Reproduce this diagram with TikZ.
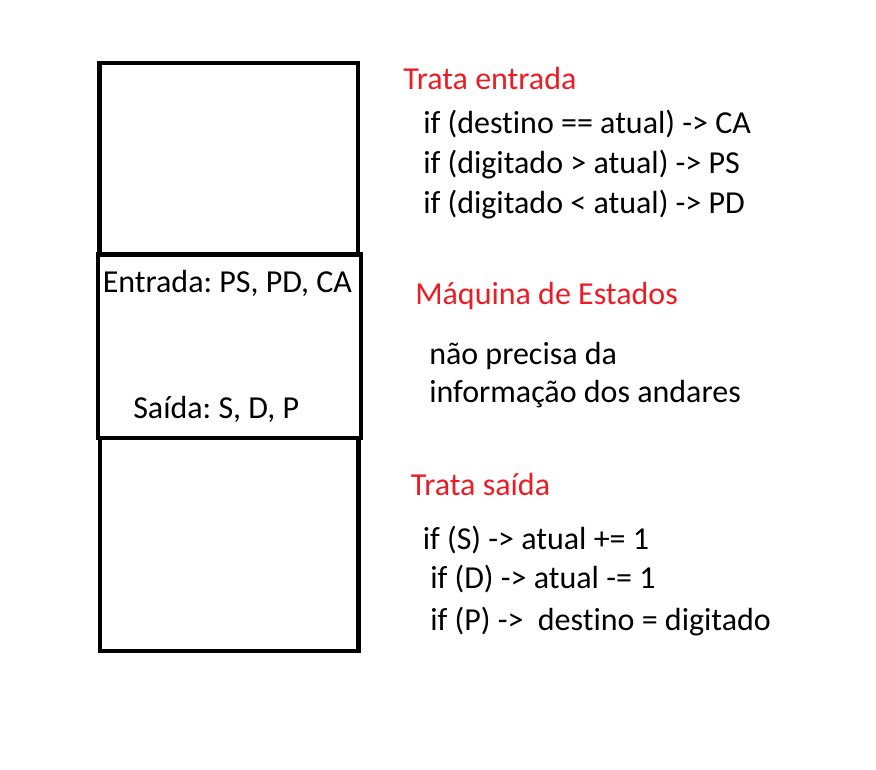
\documentclass[tikz,border=0pt]{standalone}
\usepackage{fontspec}
\setmainfont{Carlito}[Ligatures=NoCommon]
\usepackage{tikz}
\definecolor{paintred}{RGB}{237,28,36}
\tikzset{
  txt/.style={anchor=base west,inner sep=0pt,font=\fontsize{24}{28}\selectfont},
  redtxt/.style={txt,text=paintred},
  blockbox/.style={line width=3.4pt}
}
\frenchspacing

\begin{document}
\begin{tikzpicture}[x=0.75pt,y=0.75pt,yscale=-1,xscale=1]
%set diagram to the size of the reference
\useasboundingbox (0,0) rectangle (876,770);

%Shape: Rectangle [id:top]
\draw [blockbox] (99.5,63) rectangle (358,254);
%Shape: Rectangle [id:bottom]
\draw [blockbox] (100,438) rectangle (358.5,651);
%Shape: Rectangle [id:middle]
\draw [blockbox] (98,254.5) rectangle (361,438);

%Text inside the middle block
\node [txt] (entrada) at (102.5,292.7) {Entrada: PS, PD, CA};
\node [txt] (saida) at (133,418.3) {Saída: S, D, P};

%Text: Trata entrada
\node [redtxt] (trataentrada) at (403,89.3) {Trata entrada};
\node [txt] (ifca) at (423,134) {if (destino == atual) -> CA};
\node [txt] (ifps) at (423,173.3) {if (digitado > atual) -> PS};
\node [txt] (ifpd) at (423,214) {if (digitado < atual) -> PD};

%Text: Maquina de Estados
\node [redtxt] (maquina) at (415,304.3) {Máquina de Estados};
\node [txt] (naoprecisa) at (429,364.3) {não precisa da};
\node [txt] (informacao) at (429,402.7) {informação dos andares};

%Text: Trata saida
\node [redtxt] (tratasaida) at (410.5,495) {Trata saída};
\node [txt] (ifs) at (422.5,549.3) {if (S) -> atual += 1};
\node [txt] (ifd) at (430,588.3) {if (D) -> atual -= 1};
\node [txt] (ifp) at (430,630) {if (P) ->\ \ destino = digitado};

\end{tikzpicture}
\end{document}
